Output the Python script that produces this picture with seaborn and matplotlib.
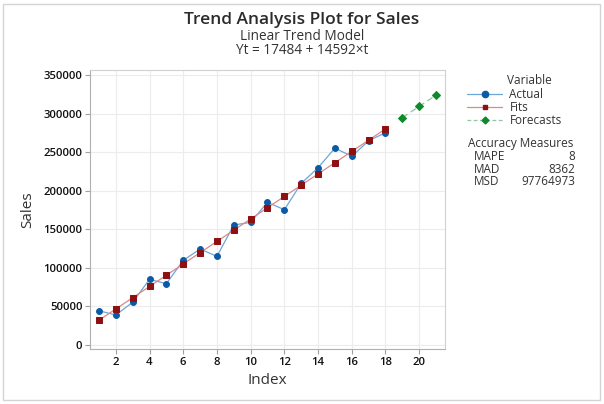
import numpy as np
import pandas as pd
import matplotlib
matplotlib.use('Agg')
import matplotlib.pyplot as plt
import seaborn as sns
from matplotlib.lines import Line2D
from matplotlib.patches import Rectangle

# data
index_actual = list(range(1, 19))
actual = [44400, 38900, 55300, 85100, 79500, 109700, 124400, 114900, 155500,
          159000, 184900, 175400, 209500, 229800, 255300, 244500, 264800, 275200]
fits = [32076, 46668, 61260, 75852, 90444, 105036, 119628, 134220, 148812,
        163404, 177996, 192588, 207180, 221772, 236364, 250956, 265548, 280140]
index_fc = [19, 20, 21]
forecasts = [294732, 309324, 323916]

measure_names = ['MAPE', 'MAD', 'MSD']
measure_values = ['8', '8362', '97764973']

df_act = pd.DataFrame({'Index': index_actual, 'Sales': actual})
df_fit = pd.DataFrame({'Index': index_actual, 'Sales': fits})
df_fc = pd.DataFrame({'Index': index_fc, 'Sales': forecasts})

sns.set_style('white')
plt.rcParams['font.family'] = ['Open Sans', 'DejaVu Sans']

fig = plt.figure(figsize=(6.04, 4.04), dpi=100)
ax = fig.add_axes([90/604, 1-349/404, 355/604, 279/404])

blue_m, blue_l = '#0a5aa6', '#6ea6d8'
red_m, red_l = '#8e1010', '#d88a8a'
green_m, green_l = '#0e8a2a', '#8ec59c'
txt = '#2b2b2b'

sns.lineplot(data=df_act, x='Index', y='Sales', ax=ax, color=blue_l, lw=0.9,
             marker='o', markersize=4.2, markerfacecolor=blue_m,
             markeredgecolor=blue_m, zorder=3)
sns.lineplot(data=df_fit, x='Index', y='Sales', ax=ax, color=red_l, lw=0.9,
             marker='s', markersize=3.8, markerfacecolor=red_m,
             markeredgecolor=red_m, zorder=4)
sns.lineplot(data=df_fc, x='Index', y='Sales', ax=ax, color=green_l, lw=0.9,
             linestyle=(0, (5, 3)), marker='D', markersize=3.8,
             markerfacecolor=green_m, markeredgecolor=green_m, zorder=4)

ax.set_xlim(0.47, 21.53)
ax.set_ylim(-5200, 356500)
ax.set_xticks(range(2, 21, 2))
ax.set_yticks(range(0, 350001, 50000))
ax.grid(True, color='#ececec', lw=0.8)
ax.set_axisbelow(True)
for s in ['left', 'bottom']:
    ax.spines[s].set_color('#b0b0b0')
for s in ['top', 'right']:
    ax.spines[s].set_color('#d0d0d0')
ax.tick_params(axis='both', direction='out', length=3.5, width=0.8,
               color='#a0a0a0', labelsize=8.2, labelcolor='#111111', pad=2,
               bottom=True, left=True)
for lab in ax.get_xticklabels() + ax.get_yticklabels():
    lab.set_fontweight('semibold')
ax.set_xlabel('Index', fontsize=11, color='#333333', labelpad=4)
ax.set_ylabel('Sales', fontsize=11, color='#333333', labelpad=6)

fig.text(302/604, 1-20/404, 'Trend Analysis Plot for Sales', ha='center',
         va='center', fontsize=12.5, color=txt, fontweight='semibold')
fig.text(302/604, 1-36/404, 'Linear Trend Model', ha='center',
         va='center', fontsize=9.8, color='#333333')
fig.text(302/604, 1-50/404, 'Yt = 17484 + 14592\u00d7t', ha='center',
         va='center', fontsize=9.8, color='#333333')

# legend
handles = [
    Line2D([], [], color=blue_l, lw=0.9, marker='o', markersize=4.5,
           markerfacecolor=blue_m, markeredgecolor=blue_m),
    Line2D([], [], color=red_l, lw=0.9, marker='s', markersize=3.5,
           markerfacecolor=red_m, markeredgecolor=red_m),
    Line2D([], [], color=green_l, lw=0.9, linestyle=(0, (3, 2)), marker='D',
           markersize=3.5, markerfacecolor=green_m, markeredgecolor=green_m),
]
fig.text(507/604, 1-80/404, 'Variable', fontsize=8.5, va='center',
         color='#333333')
leg = fig.legend(handles, ['Actual', 'Fits', 'Forecasts'], loc='upper left',
                 bbox_to_anchor=(461/604, 1-82/404), frameon=False,
                 fontsize=8.5, handlelength=3.0, handletextpad=0.6,
                 labelspacing=0.0, borderpad=0, labelcolor='#333333')

fig.text(468/604, 1-143/404, 'Accuracy Measures', fontsize=8.5, va='center',
         color='#333333')
for i, (n, v) in enumerate(zip(measure_names, measure_values)):
    y = 1 - (157 + 12.5*i)/404
    fig.text(474/604, y, n, fontsize=8.5, va='center', color='#333333')
    fig.text(575/604, y, v, fontsize=8.5, va='center', ha='right',
             color='#333333')

fig.patches.append(Rectangle((3/604, 4/404), 597/604, 396/404,
                             transform=fig.transFigure, fill=False,
                             edgecolor='#d4d4d4', lw=1))

fig.savefig('out.png', dpi=100)
